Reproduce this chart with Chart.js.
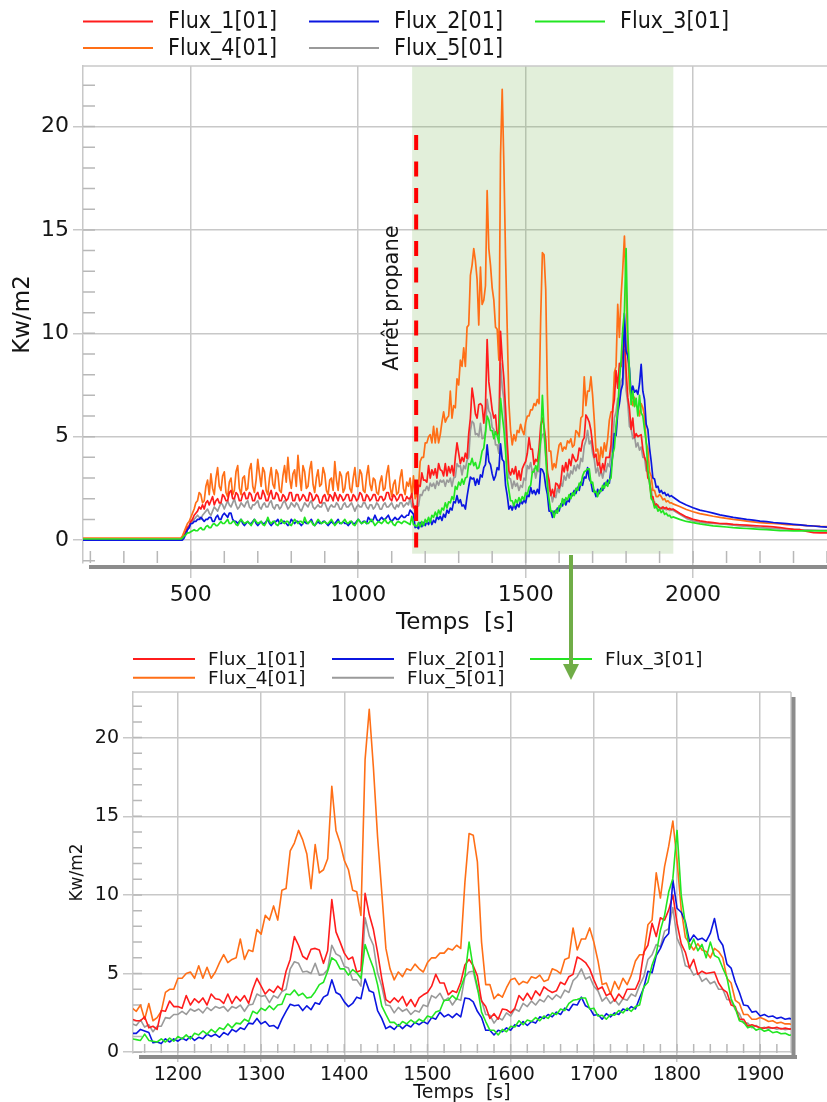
<!DOCTYPE html>
<html>
<head>
<meta charset="utf-8">
<script src="https://cdn.jsdelivr.net/npm/chart.js@4.4.1/dist/chart.umd.min.js"></script>
<style>
  body { margin: 0; background: #fff; width: 827px; height: 1102px; position: relative; overflow: hidden; }
  #top { position: absolute; left: 0; top: 0; }
  #bottom { position: absolute; left: 0; top: 640px; }
  #arrow { position: absolute; left: 0; top: 0; }
</style>
</head>
<body>
<canvas id="top" width="827" height="640"></canvas>
<canvas id="bottom" width="827" height="462"></canvas>
<svg id="arrow" width="827" height="1102">
  <line x1="571" y1="555" x2="571" y2="668" stroke="#70ad47" stroke-width="4"/>
  <polygon points="563,664 579,664 571,680" fill="#70ad47"/>
</svg>
<script>
// sample times [s]: flat start, burner + fire (5 s), cooling tail (20 s)
const timeSegments = [[178, 465, 287], [470, 1940, 5], [1960, 2400, 20]];
const time = [];
timeSegments.forEach(([a, b, s]) => { for (let t = a; t <= b; t += s) time.push(t); });

const seriesNames = ["Flux_1[01]", "Flux_2[01]", "Flux_3[01]", "Flux_4[01]", "Flux_5[01]"];
const seriesColors = ["#ff1c1c", "#0b16e0", "#22e622", "#ff6f17", "#9a9a9a"];
const drawOrder = [3, 2, 1, 4, 5];

// Kw/m2 readings on the time grid above (start | 470-1150 | 1155-1940 | tail)
const flux1 = [
  0, 0,
  0.0, 0.1, 0.2, 0.4, 0.6, 0.7, 0.9, 1.0, 1.2, 1.3,
  1.4, 1.6, 1.5, 1.7, 1.5, 1.8, 1.9, 1.7, 1.9, 2.1,
  1.7, 1.9, 2.0, 1.8, 1.8, 2.2, 2.1, 1.9, 1.9, 2.3,
  2.4, 2.0, 2.0, 2.3, 2.2, 1.9, 1.9, 2.2, 2.3, 2.0,
  2.0, 2.3, 2.2, 1.9, 1.9, 2.2, 2.3, 2.0, 2.0, 2.4,
  2.2, 1.9, 1.9, 2.2, 2.4, 2.0, 2.0, 2.3, 2.2, 1.9,
  1.9, 2.2, 2.1, 1.9, 2.0, 2.3, 2.3, 1.9, 1.9, 2.2,
  2.2, 1.9, 2.0, 2.2, 2.1, 1.9, 1.9, 2.3, 2.2, 1.9,
  2.0, 2.2, 2.1, 1.8, 1.8, 2.1, 2.2, 1.9, 1.9, 2.2,
  2.1, 1.9, 2.3, 2.1, 1.9, 2.2, 2.1, 1.9, 2.0, 2.2,
  2.2, 1.9, 1.9, 2.2, 2.1, 1.9, 2.0, 2.3, 2.2, 1.9,
  1.9, 2.2, 2.1, 1.9, 2.0, 2.2, 2.2, 1.9, 1.9, 2.1,
  2.1, 1.9, 2.0, 2.3, 2.3, 2.0, 1.9, 2.2, 2.1, 1.9,
  2.0, 2.2, 2.2, 1.9, 1.9, 2.1, 2.0,
  2.0, 2.25, 1.55, 1.65, 1.45, 2.65, 2.6, 3.25, 2.9, 2.9,
  2.8, 3.6, 3.0, 3.4, 3.15, 3.45, 3.0, 3.7, 3.4, 3.35,
  3.1, 3.7, 3.1, 3.55, 3.25, 3.6, 3.1, 4.0, 4.7, 4.2,
  3.7, 4.0, 3.8, 4.2, 3.95, 5.15, 5.9, 7.35, 6.8, 6.1,
  5.9, 6.55, 6.6, 6.5, 5.65, 6.45, 9.7, 7.65, 7.0, 6.3,
  5.9, 6.05, 5.1, 5.2, 10.1, 8.75, 7.8, 6.35, 4.7, 3.35,
  3.15, 3.45, 3.2, 3.55, 2.95, 3.35, 2.9, 3.45, 3.65, 3.8,
  4.2, 4.95, 4.4, 4.4, 3.65, 3.9, 3.8, 4.45, 5.55, 5.9,
  5.5, 4.85, 3.25, 2.9, 2.15, 2.45, 2.1, 2.75, 2.7, 2.5,
  2.8, 3.6, 3.3, 3.75, 3.35, 3.9, 3.6, 4.15, 3.95, 3.8,
  3.9, 4.45, 4.3, 4.8, 4.95, 6.05, 5.9, 5.7, 5.3, 4.6,
  4.0, 4.15, 3.6, 3.75, 3.25, 3.7, 3.4, 4.0, 4.0, 4.0,
  4.6, 6.35, 6.8, 8.2, 7.35, 8.55, 8.4, 9.05, 10.0, 8.2,
  6.9, 6.35, 5.35, 5.9, 4.95, 5.15, 5.0, 5.05, 5.1, 4.4,
  4.0, 3.8, 3.0, 2.9, 2.1, 2.1, 1.65, 1.75, 1.65, 1.55,
  1.52, 1.6, 1.52, 1.58, 1.48, 1.53, 1.47, 1.5,
  1.3, 1.12, 1.0, 0.93, 0.88, 0.84, 0.8, 0.79, 0.76, 0.74, 0.72, 0.7,
  0.68, 0.66, 0.64, 0.6, 0.56, 0.52, 0.5, 0.42, 0.36, 0.35, 0.35
];
const flux2 = [
  0, 0,
  0.0, 0.0, 0.1, 0.3, 0.5, 0.6, 0.8, 0.8, 0.9, 0.9,
  1.0, 1.0, 1.1, 1.0, 0.9, 1.0, 1.0, 1.1, 1.1, 0.9,
  0.9, 1.1, 1.2, 1.0, 1.0, 1.2, 1.3, 1.2, 1.1, 1.3,
  1.3, 1.0, 0.9, 0.9, 0.8, 0.9, 1.0, 0.8, 0.7, 0.8,
  0.9, 0.8, 0.8, 0.9, 1.0, 0.8, 0.7, 0.8, 0.9, 0.8,
  0.8, 0.9, 1.0, 0.8, 0.7, 0.8, 0.9, 0.9, 1.0, 0.8,
  0.8, 0.9, 0.9, 0.8, 0.7, 0.8, 1.0, 0.9, 0.8, 0.9,
  0.9, 0.8, 0.7, 0.8, 0.9, 0.8, 0.8, 0.9, 1.0, 0.8,
  0.7, 0.8, 0.9, 0.8, 0.8, 0.9, 0.9, 0.8, 0.7, 0.8,
  0.9, 0.8, 0.8, 0.9, 1.0, 0.8, 0.8, 0.9, 0.8, 0.8,
  0.7, 0.8, 0.9, 0.8, 0.8, 0.9, 1.0, 0.9, 0.8, 0.9,
  0.9, 0.8, 1.1, 1.0, 0.9, 1.0, 1.2, 1.0, 0.9, 1.0,
  1.1, 1.0, 1.0, 1.1, 1.2, 1.0, 0.9, 1.0, 1.1, 1.0,
  1.0, 1.1, 1.2, 1.1, 1.1, 1.2, 1.2,
  1.45, 1.35, 1.25, 0.6, 0.65, 0.55, 0.85, 0.65, 0.85, 0.7,
  0.9, 0.75, 1.0, 0.75, 0.95, 0.85, 1.15, 1.0, 1.15, 0.95,
  1.25, 1.1, 1.45, 1.3, 1.55, 1.45, 1.85, 1.8, 2.15, 1.8,
  1.95, 1.65, 1.7, 1.5, 2.1, 2.6, 3.05, 2.95, 3.0, 2.65,
  2.95, 2.7, 3.15, 3.05, 3.5, 3.65, 4.6, 3.8, 3.65, 3.2,
  2.9, 3.1, 3.5, 3.4, 4.65, 3.9, 3.8, 2.65, 2.15, 1.5,
  1.65, 1.45, 1.75, 1.5, 1.75, 1.6, 1.9, 1.75, 1.95, 1.8,
  2.2, 2.1, 2.55, 2.25, 2.4, 2.2, 2.45, 2.25, 3.45, 3.4,
  3.2, 2.6, 2.2, 1.4, 1.4, 1.1, 1.4, 1.3, 1.55, 1.4,
  1.75, 1.65, 1.95, 1.7, 1.95, 1.85, 2.25, 2.15, 2.4, 2.25,
  2.55, 2.4, 2.8, 2.65, 3.05, 3.0, 3.5, 2.95, 2.8, 2.35,
  2.4, 2.1, 2.45, 2.25, 2.5, 2.4, 2.75, 2.65, 2.9, 2.75,
  3.45, 4.1, 5.15, 5.05, 6.15, 6.6, 7.25, 7.55, 10.95, 9.15,
  8.9, 8.3, 7.05, 7.45, 7.15, 7.25, 7.05, 7.55, 8.5, 7.2,
  6.8, 5.6, 5.35, 4.45, 3.8, 3.0, 2.95, 2.55, 2.6, 2.3,
  2.4, 2.25, 2.3, 2.15, 2.22, 2.1, 2.15, 2.08,
  1.85, 1.7, 1.56, 1.45, 1.38, 1.3, 1.22, 1.16, 1.1, 1.05, 1.0, 0.96,
  0.92, 0.89, 0.85, 0.82, 0.79, 0.76, 0.73, 0.7, 0.68, 0.65, 0.63
];
const flux3 = [
  0.05, 0.05,
  0.05, 0.1, 0.2, 0.25, 0.35, 0.35, 0.4, 0.45, 0.5, 0.45,
  0.45, 0.55, 0.6, 0.5, 0.5, 0.65, 0.7, 0.6, 0.6, 0.75,
  0.8, 0.7, 0.7, 0.8, 0.9, 0.8, 0.8, 0.9, 1.0, 0.8,
  0.8, 0.9, 0.9, 0.75, 0.7, 0.85, 1.0, 0.9, 0.8, 0.85,
  0.9, 0.8, 0.7, 0.85, 1.0, 0.9, 0.8, 0.85, 0.9, 0.75,
  0.7, 0.85, 1.1, 0.9, 0.8, 0.9, 0.9, 0.75, 0.7, 0.85,
  1.0, 0.85, 0.8, 0.9, 0.9, 0.75, 0.7, 0.85, 1.0, 0.9,
  0.8, 0.9, 0.9, 0.8, 1.1, 0.9, 0.8, 0.9, 0.9, 0.75,
  0.7, 0.85, 1.0, 0.9, 0.8, 0.85, 0.9, 0.8, 0.8, 0.9,
  1.0, 0.85, 0.7, 0.8, 0.9, 0.85, 0.8, 0.9, 1.0, 0.85,
  0.8, 0.9, 0.9, 0.75, 0.7, 0.85, 1.0, 0.9, 0.8, 0.85,
  0.9, 0.8, 0.8, 0.9, 1.0, 0.85, 0.7, 0.8, 0.9, 0.85,
  0.8, 0.9, 1.0, 0.85, 0.8, 0.9, 0.9, 0.75, 0.7, 0.85,
  0.9, 0.85, 0.8, 0.9, 0.9, 0.85, 0.8,
  0.75, 1.15, 0.75, 0.7, 0.65, 0.85, 0.65, 0.9, 0.7, 1.0,
  0.85, 1.1, 0.85, 1.2, 1.1, 1.35, 1.15, 1.45, 1.25, 1.55,
  1.45, 1.8, 1.55, 1.85, 1.8, 2.1, 1.95, 2.6, 2.45, 2.8,
  2.65, 2.95, 2.7, 3.0, 3.05, 3.7, 3.65, 3.95, 3.6, 3.75,
  3.45, 3.5, 3.85, 4.3, 4.45, 5.15, 6.0, 5.8, 5.3, 5.3,
  4.9, 5.25, 5.05, 4.7, 6.85, 6.05, 5.35, 4.3, 2.95, 2.4,
  1.9, 1.9, 1.65, 1.95, 1.8, 2.05, 1.85, 2.1, 1.95, 2.3,
  2.2, 2.55, 2.65, 3.3, 3.3, 3.6, 3.35, 4.1, 4.85, 7.0,
  5.35, 4.15, 2.55, 1.95, 1.4, 1.4, 1.1, 1.45, 1.3, 1.65,
  1.6, 2.0, 1.75, 2.05, 1.95, 2.2, 2.0, 2.3, 2.15, 2.5,
  2.4, 2.75, 2.65, 3.1, 3.3, 3.35, 3.45, 3.45, 2.75, 2.8,
  2.3, 2.35, 2.1, 2.4, 2.35, 2.65, 2.5, 2.8, 2.6, 2.9,
  3.0, 4.15, 4.45, 5.55, 6.25, 7.75, 8.7, 10.2, 11.05, 14.1,
  10.0, 8.15, 6.55, 7.2, 6.45, 6.85, 6.0, 7.0, 6.15, 6.0,
  5.35, 4.75, 3.4, 2.8, 2.0, 1.9, 1.55, 1.65, 1.4, 1.5,
  1.33, 1.42, 1.24, 1.3, 1.17, 1.2, 1.08, 1.12,
  1.0, 0.9, 0.84, 0.78, 0.73, 0.69, 0.66, 0.63, 0.6, 0.58, 0.56, 0.54,
  0.52, 0.5, 0.48, 0.46, 0.45, 0.44, 0.44, 0.44, 0.44, 0.44, 0.44
];
const flux4 = [
  0.1, 0.1,
  0.1, 0.2, 0.4, 0.6, 0.8, 0.9, 1.1, 1.3, 1.5, 1.8,
  1.9, 2.3, 2.2, 1.8, 1.9, 2.6, 2.9, 2.2, 3.2, 2.5,
  2.2, 3.0, 3.5, 2.6, 2.4, 3.1, 3.3, 2.3, 2.1, 2.8,
  3.0, 2.2, 2.4, 3.3, 3.6, 2.5, 2.2, 3.0, 3.1, 2.4,
  2.5, 3.4, 3.7, 2.6, 2.3, 2.9, 3.9, 3.2, 2.6, 3.5,
  3.3, 2.4, 2.2, 3.0, 3.5, 2.7, 2.5, 3.4, 3.2, 2.4,
  2.3, 3.1, 3.6, 2.8, 4.0, 3.0, 2.5, 3.2, 3.4, 2.6,
  4.1, 3.1, 2.4, 3.6, 3.3, 2.5, 2.6, 3.4, 3.8, 2.7,
  2.3, 3.0, 3.4, 2.6, 2.7, 3.5, 3.2, 2.4, 2.2, 2.9,
  3.0, 2.4, 3.8, 2.9, 2.4, 3.3, 3.1, 2.3, 2.5, 3.2,
  3.3, 2.5, 2.3, 3.0, 3.5, 2.6, 2.6, 3.4, 3.2, 2.4,
  2.3, 3.1, 3.6, 2.7, 2.4, 3.0, 2.9, 2.3, 2.2, 2.8,
  3.1, 2.4, 2.5, 3.2, 3.6, 2.6, 2.1, 2.7, 2.9, 2.2,
  2.3, 3.0, 3.4, 2.5, 2.2, 2.8, 2.6,
  3.0, 2.1, 3.1, 2.0, 2.2, 2.6, 3.8, 4.0, 4.0, 4.7,
  4.7, 5.0, 5.1, 4.7, 5.5, 4.7, 5.4, 4.7, 5.1, 5.7,
  6.2, 5.7, 5.9, 6.0, 7.2, 5.9, 6.5, 6.4, 7.8, 7.5,
  8.7, 8.4, 9.3, 8.4, 10.3, 10.4, 12.8, 13.3, 14.1, 13.5,
  12.6, 10.4, 13.2, 11.4, 11.6, 12.3, 16.9, 14.1, 13.3, 12.2,
  11.6, 10.3, 10.2, 8.7, 18.6, 21.8, 18.1, 13.7, 10.2, 6.6,
  5.3, 4.6, 5.1, 4.8, 5.3, 5.2, 5.6, 5.3, 5.1, 5.7,
  6.0, 6.0, 6.3, 6.3, 6.6, 6.5, 6.8, 6.6, 10.8, 13.9,
  13.8, 12.1, 7.0, 4.3, 4.3, 3.4, 3.7, 3.5, 4.1, 4.6,
  4.7, 4.3, 4.5, 4.4, 4.8, 4.7, 4.9, 4.5, 4.6, 5.3,
  5.2, 5.0, 5.9, 6.0, 7.9, 6.5, 7.2, 7.2, 7.9, 7.0,
  5.8, 4.3, 4.4, 3.7, 4.5, 4.0, 4.7, 4.3, 4.9, 5.8,
  6.2, 6.2, 8.1, 8.4, 11.4, 9.8, 11.8, 13.1, 14.7, 12.2,
  9.1, 7.3, 6.9, 6.5, 6.9, 6.5, 6.4, 6.0, 6.6, 6.4,
  6.0, 4.7, 4.4, 3.3, 3.1, 2.4, 2.4, 2.1, 2.1, 2.2,
  2.1, 1.95, 2.0, 1.85, 1.9, 1.8, 1.8, 1.75,
  1.62, 1.48, 1.37, 1.28, 1.22, 1.15, 1.1, 1.05, 1.0, 0.96, 0.92, 0.88,
  0.84, 0.82, 0.8, 0.78, 0.75, 0.73, 0.72, 0.7, 0.68, 0.66, 0.65
];
const flux5 = [
  0, 0,
  0.0, 0.1, 0.2, 0.3, 0.5, 0.6, 0.8, 0.9, 1.0, 1.1,
  1.2, 1.1, 1.0, 1.2, 1.3, 1.4, 1.5, 1.3, 1.2, 1.4,
  1.6, 1.5, 1.4, 1.6, 1.8, 1.7, 1.5, 1.7, 1.9, 1.7,
  1.6, 1.8, 2.0, 1.7, 1.5, 1.6, 1.8, 1.7, 1.6, 1.8,
  1.9, 1.6, 1.5, 1.7, 1.7, 1.8, 1.9, 1.6, 1.5, 1.7,
  1.8, 1.6, 1.6, 1.8, 1.9, 1.6, 1.5, 1.7, 1.7, 1.5,
  1.6, 1.8, 1.9, 1.7, 1.5, 1.6, 1.8, 1.7, 1.6, 1.8,
  1.7, 1.5, 1.4, 1.6, 1.8, 1.7, 1.6, 1.8, 1.9, 1.6,
  1.5, 1.6, 1.7, 1.6, 1.6, 1.8, 1.8, 1.6, 1.4, 1.6,
  1.7, 1.6, 1.6, 1.8, 1.7, 1.5, 1.5, 1.7, 1.8, 1.6,
  1.6, 1.7, 1.8, 1.6, 1.4, 1.6, 1.7, 1.6, 1.6, 1.8,
  1.8, 1.6, 1.5, 1.7, 1.7, 1.5, 1.6, 1.8, 1.7, 1.5,
  1.5, 1.7, 1.8, 1.6, 1.6, 1.7, 1.8, 1.6, 1.5, 1.7,
  1.6, 1.8, 1.8, 1.6, 1.7, 1.8, 1.7,
  2.05, 1.6, 1.75, 1.3, 1.65, 1.65, 2.2, 2.15, 2.4, 2.4,
  2.6, 2.4, 2.75, 2.6, 2.75, 2.5, 2.85, 2.65, 2.9, 2.8,
  2.9, 2.6, 2.9, 2.8, 3.0, 2.6, 3.0, 3.05, 3.7, 3.55,
  3.6, 3.15, 3.6, 3.45, 3.85, 4.0, 5.3, 5.75, 5.65, 5.1,
  5.15, 5.0, 5.65, 4.9, 4.95, 5.25, 6.8, 6.25, 6.1, 5.45,
  5.35, 4.6, 4.6, 4.2, 8.55, 7.4, 6.8, 5.05, 4.2, 3.0,
  2.95, 2.5, 2.85, 2.6, 2.75, 2.4, 2.65, 2.55, 3.0, 2.9,
  3.6, 3.45, 3.75, 3.25, 3.45, 3.0, 3.4, 3.3, 4.8, 5.1,
  5.15, 4.0, 3.3, 2.4, 2.35, 1.85, 2.2, 2.05, 2.5, 2.3,
  2.75, 2.6, 3.1, 2.9, 3.25, 3.0, 3.35, 3.2, 3.6, 3.35,
  3.65, 3.45, 3.95, 3.8, 4.55, 4.8, 5.3, 4.65, 4.8, 4.2,
  3.9, 3.25, 3.5, 3.1, 3.35, 3.0, 3.4, 3.3, 3.7, 3.55,
  4.25, 4.8, 5.9, 6.2, 6.85, 6.7, 7.7, 7.85, 9.2, 7.25,
  6.65, 5.5, 5.4, 4.9, 5.05, 4.5, 4.7, 4.35, 4.5, 4.0,
  4.0, 3.35, 3.3, 2.7, 2.45, 1.85, 1.85, 1.55, 1.7, 1.5,
  1.58, 1.48, 1.55, 1.46, 1.52, 1.43, 1.48, 1.44,
  1.25, 1.05, 0.92, 0.86, 0.82, 0.8, 0.78, 0.76, 0.72, 0.69, 0.66, 0.63,
  0.6, 0.58, 0.56, 0.54, 0.53, 0.52, 0.5, 0.49, 0.48, 0.47, 0.47
];
const fluxSeries = [flux1, flux2, flux3, flux4, flux5];
fluxSeries.forEach((s, i) => { if (s.length !== time.length) console.error("length", i, s.length, time.length); });

const propaneStop = 1173;
const zoomWindow = [1161, 1941];
const topXTicks = [500, 1000, 1500, 2000];
const bottomXTicks = [1200, 1300, 1400, 1500, 1600, 1700, 1800, 1900];
const yTicks = [0, 5, 10, 15, 20];

const FONT = '"DejaVu Sans", Verdana, sans-serif';
Chart.defaults.font.family = FONT;
Chart.defaults.color = "#151515";

function makeDatasets(width) {
  return fluxSeries.map((s, i) => ({
    label: seriesNames[i],
    data: time.map((t, k) => ({ x: t, y: s[k] })),
    borderColor: seriesColors[i],
    borderWidth: width,
    borderJoinStyle: "round",
    pointRadius: 0,
    tension: 0,
    order: drawOrder[i],
  }));
}

const framePlugin = {
  id: "frame",
  beforeDatasetsDraw(chart, args, o) {
    const { ctx, chartArea: a, scales: { x, y } } = chart;
    ctx.save();
    if (o.shade) {
      const x0 = x.getPixelForValue(o.shade[0]);
      const x1 = x.getPixelForValue(o.shade[1]);
      const y1 = y.getPixelForValue(o.shadeBottom);
      ctx.fillStyle = "rgba(112, 173, 71, 0.2)";
      ctx.fillRect(x0, a.top, x1 - x0, y1 - a.top);
    }
    ctx.strokeStyle = "#b8b8b8";
    ctx.lineWidth = 1.5;
    ctx.beginPath();
    for (let v = Math.ceil(y.min); v <= y.max; v += 1) {
      const py = y.getPixelForValue(v);
      ctx.moveTo(a.left, py);
      ctx.lineTo(a.left + o.tick, py);
    }
    for (let v = Math.ceil(x.min / o.minorX) * o.minorX; v <= x.max; v += o.minorX) {
      const px = x.getPixelForValue(v);
      ctx.moveTo(px, a.bottom);
      ctx.lineTo(px, a.bottom - o.tick);
    }
    ctx.stroke();
    ctx.strokeStyle = "#c8c8c8";
    ctx.beginPath();
    ctx.moveTo(a.left, a.top);
    ctx.lineTo(a.right, a.top);
    if (o.rightBar) {
      ctx.moveTo(a.right, a.top);
      ctx.lineTo(a.right, a.bottom);
    }
    ctx.stroke();
    ctx.restore();
  },
  afterDatasetsDraw(chart, args, o) {
    const { ctx, chartArea: a, scales: { x } } = chart;
    ctx.save();
    if (o.marker) {
      const px = x.getPixelForValue(o.marker);
      ctx.strokeStyle = "#ff0000";
      ctx.lineWidth = 4;
      ctx.setLineDash([15, 11.5]);
      ctx.beginPath();
      ctx.moveTo(px, 135);
      ctx.lineTo(px, 556);
      ctx.stroke();
      ctx.setLineDash([]);
      ctx.translate(px - 24, 298);
      ctx.rotate(-Math.PI / 2);
      ctx.fillStyle = "#151515";
      ctx.font = "21px " + FONT;
      ctx.textAlign = "center";
      ctx.textBaseline = "middle";
      ctx.fillText("Arrêt propane", 0, 0);
      ctx.setTransform(1, 0, 0, 1, 0, 0);
    }
    ctx.fillStyle = "#8c8c8c";
    ctx.fillRect(a.left + 6, a.bottom + 2, a.right - a.left, 4);
    if (o.rightBar) ctx.fillRect(a.right + 0.5, a.top + 5, 4, a.bottom - a.top + 1);
    const lg = o.legend;
    ctx.font = lg.font;
    ctx.textBaseline = "middle";
    ctx.textAlign = "left";
    chart.data.datasets.forEach((ds, i) => {
      const cx = lg.cols[i % 3];
      const cy = lg.rows[Math.floor(i / 3)];
      ctx.strokeStyle = ds.borderColor;
      ctx.lineWidth = 2;
      ctx.beginPath();
      ctx.moveTo(cx, cy);
      ctx.lineTo(cx + lg.line, cy);
      ctx.stroke();
      ctx.fillStyle = "#151515";
      ctx.fillText(ds.label, cx + lg.text, cy + 1);
    });
    ctx.restore();
  },
};

function scales(cfg) {
  return {
    x: {
      type: "linear",
      min: cfg.xMin,
      max: cfg.xMax,
      afterBuildTicks: (s) => { s.ticks = cfg.xTicks.map((v) => ({ value: v })); },
      afterFit: (s) => { s.height = cfg.xHeight; },
      ticks: { callback: (v) => String(v), font: { size: cfg.tickSize }, padding: cfg.xPad, maxRotation: 0, autoSkip: false },
      grid: { color: "#c8c8c8", lineWidth: 1.5, tickLength: cfg.xTickLen, tickColor: "#c8c8c8" },
      border: { display: false },
      title: { display: true, text: "Temps  [s]", font: { size: cfg.titleSize, lineHeight: 1 }, padding: { top: 0, bottom: cfg.xTitlePad } },
    },
    y: {
      type: "linear",
      min: cfg.yMin,
      max: cfg.yMax,
      afterBuildTicks: (s) => { s.ticks = yTicks.map((v) => ({ value: v })); },
      afterFit: (s) => { s.width = cfg.yWidth; },
      ticks: { callback: (v) => String(v), font: { size: cfg.tickSize }, padding: 4 },
      grid: { color: "#c8c8c8", lineWidth: 1.5, tickLength: 10, tickColor: "#c8c8c8" },
      border: { display: true, color: "#c8c8c8", width: 1.5 },
      title: { display: true, text: "Kw/m2", font: { size: cfg.yTitleSize, lineHeight: 1 }, padding: { top: cfg.yTitlePad } },
    },
  };
}

new Chart(document.getElementById("top"), {
  type: "line",
  data: { datasets: makeDatasets(1.7) },
  options: {
    responsive: false,
    animation: false,
    events: [],
    layout: { padding: { top: 66, right: 0, left: 0, bottom: 0 } },
    plugins: {
      legend: { display: false },
      tooltip: { enabled: false },
      frame: {
        shade: zoomWindow, shadeBottom: -0.66, marker: propaneStop, minorX: 100, tick: 12,
        legend: { cols: [83, 309, 535], rows: [21.5, 48], line: 70, text: 85, font: '23px "DejaVu Sans Condensed", "DejaVu Sans", sans-serif' },
      },
    },
    scales: scales({
      xMin: 178, xMax: 2400, xTicks: topXTicks, xHeight: 77, tickSize: 22, xPad: 4, xTickLen: 15,
      titleSize: 23, xTitlePad: 5, yMin: -1.11, yMax: 22.93, yWidth: 83, yTitleSize: 23, yTitlePad: 12,
    }),
  },
  plugins: [framePlugin],
});

new Chart(document.getElementById("bottom"), {
  type: "line",
  data: { datasets: makeDatasets(1.6) },
  options: {
    responsive: false,
    animation: false,
    events: [],
    layout: { padding: { top: 52, right: 36, left: 0, bottom: 0 } },
    plugins: {
      legend: { display: false },
      tooltip: { enabled: false },
      frame: {
        minorX: 20, tick: 9, rightBar: true,
        legend: { cols: [133, 332, 530], rows: [19, 37.7], line: 62, text: 75, font: "18.5px " + FONT },
      },
    },
    scales: scales({
      xMin: 1146, xMax: 1937, xTicks: bottomXTicks, xHeight: 49, tickSize: 19, xPad: 2, xTickLen: 9,
      titleSize: 19, xTitlePad: -1, yMin: -0.05, yMax: 22.9, yWidth: 133, yTitleSize: 17, yTitlePad: 69,
    }),
  },
  plugins: [framePlugin],
});
</script>
</body>
</html>
